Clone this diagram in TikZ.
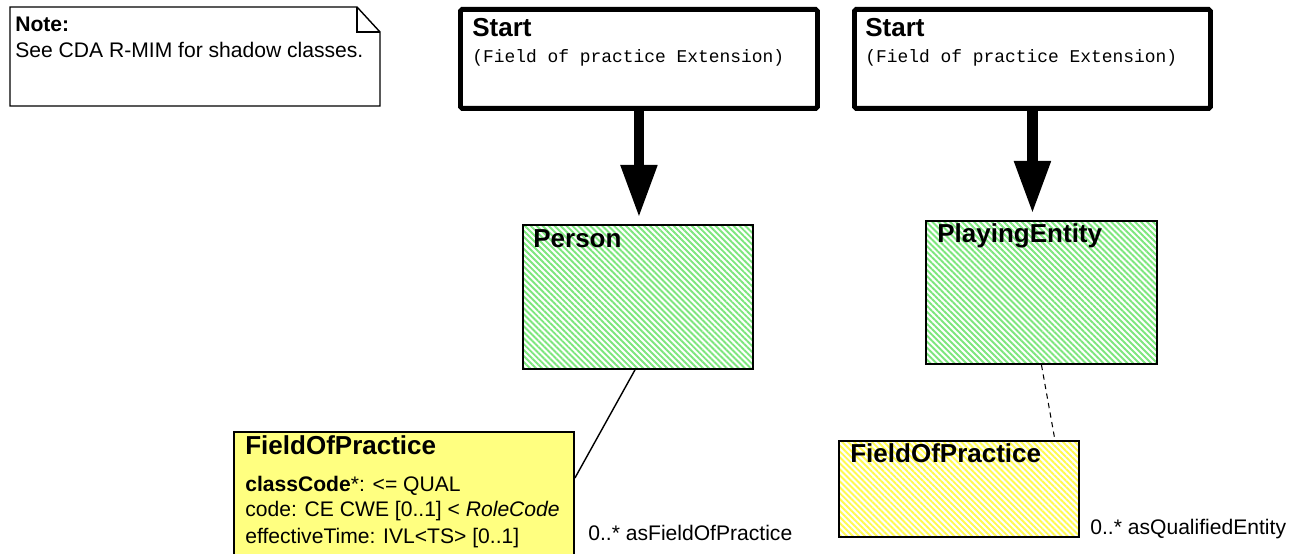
\documentclass[tikz,border=0pt]{standalone}
\usepackage{fontspec}
\setmainfont{Liberation Sans}
\setmonofont{Liberation Mono}
\usepackage{tikz}
\usetikzlibrary{arrows.meta,patterns.meta,positioning}
\usepackage{xcolor}
\definecolor{hatchgreen}{RGB}{125,230,125}
\definecolor{hatchyellow}{RGB}{255,250,80}
\definecolor{classyellow}{RGB}{255,255,128}

\begin{document}
\begin{tikzpicture}[>={Triangle[length=1.06cm,width=0.68cm]},
  startbox/.style={draw,line width=2.8pt,rounded corners=1pt,anchor=north west,inner sep=0pt,minimum height=1.98cm},
  classbox/.style={draw,line width=1.1pt,anchor=north west,inner sep=0pt},
  shadowbox/.style={classbox,fill=white,pattern={Lines[angle=-45,distance=2.4pt,line width=1.1pt]},pattern color=#1},
  title/.style={font=\bfseries\fontsize{14.8}{17}\selectfont,anchor=base west,inner sep=0pt},
  body/.style={font=\fontsize{12}{14}\selectfont,anchor=base west,inner sep=0pt},
  mono/.style={font=\ttfamily\fontsize{10.2}{12}\selectfont,anchor=base west,inner sep=0pt}]
\useasboundingbox (0,0) rectangle (25.82,11.08);
\draw[line width=0.8pt] (0.2,10.94) -- (7.14,10.94) -- (7.6,10.44) -- (7.6,8.96) -- (0.2,8.96) -- cycle;
\draw[line width=0.8pt] (7.14,10.94) -- (7.14,10.44) -- (7.6,10.44);
\node[body,font=\bfseries\fontsize{12}{14}\selectfont] (notehead) at (0.3,10.44) {Note:};
\node[body] (notetext) at (0.3,9.92) {See CDA R-MIM for shadow classes.};

\node[startbox,minimum width=7.14cm] (start1) at (9.16,10.94) {};
\node[title] (start1head) at ([shift={(0.28,-0.6)}]start1.north west) {Start};
\node[mono] (start1sub) at ([shift={(0.28,-1.12)}]start1.north west) {(Field of practice Extension)};
\node[startbox,minimum width=7.12cm] (start2) at (17.04,10.94) {};
\node[title] (start2head) at ([shift={(0.26,-0.6)}]start2.north west) {Start};
\node[mono] (start2sub) at ([shift={(0.26,-1.12)}]start2.north west) {(Field of practice Extension)};

\node[shadowbox=hatchgreen,minimum width=4.6cm,minimum height=2.88cm] (person) at (10.44,6.6) {};
\node[title] (personhead) at ([shift={(0.22,-0.48)}]person.north west) {Person};
\node[shadowbox=hatchgreen,minimum width=4.62cm,minimum height=2.86cm] (playing) at (18.5,6.68) {};
\node[title] (playinghead) at ([shift={(0.24,-0.46)}]playing.north west) {PlayingEntity};

\node[classbox,fill=classyellow,minimum width=6.8cm,minimum height=2.9cm] (fopA) at (4.66,2.46) {};
\node[title] (fopAhead) at ([shift={(0.24,-0.48)}]fopA.north west) {FieldOfPractice};
\node[body] (fopAattr1) at ([shift={(0.24,-1.22)}]fopA.north west) {\textbf{classCode}*: <= QUAL};
\node[body] (fopAattr2) at ([shift={(0.24,-1.72)}]fopA.north west) {code: CE CWE [0..1] < \textit{RoleCode}};
\node[body] (fopAattr3) at ([shift={(0.24,-2.26)}]fopA.north west) {effectiveTime: IVL<TS> [0..1]};
\node[shadowbox=hatchyellow,minimum width=4.8cm,minimum height=1.92cm] (fopB) at (16.76,2.28) {};
\node[title] (fopBhead) at ([shift={(0.24,-0.46)}]fopB.north west) {FieldOfPractice};

\draw[->,line width=6.2pt,shorten >=0.12cm] (start1.south) -- (start1.south |- person.north);
\draw[->,line width=6.2pt,shorten >=0.12cm] (start2.south) -- (start2.south |- playing.north);
\draw[line width=0.8pt] ([xshift=-0.06cm]person.south) -- ([yshift=-0.94cm]fopA.north east);
\draw[line width=0.6pt,dash pattern=on 3pt off 2.5pt] (playing.south) -- ([xshift=-0.5cm]fopB.north east);
\node[body] (multA) at (11.76,0.26) {0..* asFieldOfPractice};
\node[body] (multB) at (21.8,0.38) {0..* asQualifiedEntity};
\end{tikzpicture}
\end{document}
